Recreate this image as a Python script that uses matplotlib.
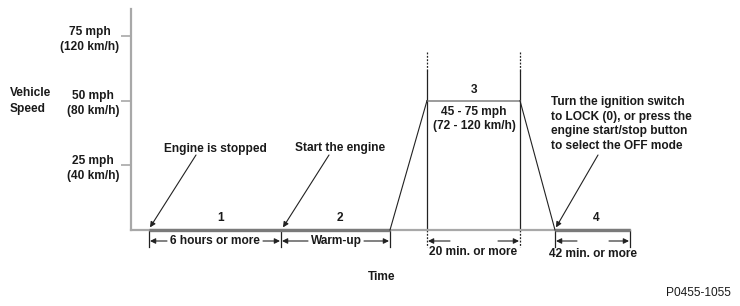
import matplotlib.pyplot as plt

plt.rcParams['font.family'] = ['Liberation Sans', 'DejaVu Sans']
plt.rcParams['font.weight'] = 'bold'
plt.rcParams['font.size'] = 8.6

# schematic time positions (drawing units) and vehicle speed (mph)
time_pts = [149, 390, 427, 520, 555, 630]
speed_pts = [0, 0, 50, 50, 0, 0]

speed_ticks = [25, 50, 75]
tick_labels = ['25 mph\n(40 km/h)', '50 mph\n(80 km/h)', '75 mph\n(120 km/h)']

# phase boundaries along the time axis
phase_edges = [149, 281, 390, 427, 520, 555, 630]
phase_names = ['1', '2', '3', '4']
phase_centers = [221, 340, 474, 596]
phase_speeds = [0, 0, 50, 0]

TXT = '#1a1a1a'
PX = 194 / 75.0          # pixels per mph
def py(p):               # pixel row -> mph units
    return (230 - p) / PX

fig = plt.figure(figsize=(7.4, 3.06), dpi=100)
ax = fig.add_axes([0, 0, 1, 1])
ax.set_xlim(0, 740)
ax.set_ylim(py(306), py(0))

# axes
ax.spines['top'].set_visible(False)
ax.spines['right'].set_visible(False)
ax.spines['left'].set_position(('data', 131))
ax.spines['left'].set_bounds(0, py(9))
ax.spines['bottom'].set_position(('data', 0))
ax.spines['bottom'].set_bounds(131, 630)
for s in ['left', 'bottom']:
    ax.spines[s].set_color('#a8a8a8')
    ax.spines[s].set_linewidth(1.6)
ax.set_xticks([])
ax.set_yticks(speed_ticks)
ax.set_yticklabels(tick_labels, multialignment='center', color=TXT,
                   linespacing=1.35)
ax.tick_params(axis='y', direction='out', length=7.5, width=1.2,
               color='#a8a8a8', pad=1)

# speed profile
ax.plot(time_pts[:2], speed_pts[:2], color='#7a7a7a', lw=2.4,
        solid_capstyle='butt', zorder=3)
ax.plot(time_pts[4:], speed_pts[4:], color='#7a7a7a', lw=2.4,
        solid_capstyle='butt', zorder=3)
ax.plot(time_pts[2:4], speed_pts[2:4], color='#8a8a8a', lw=1.2, zorder=3)
ax.plot(time_pts[1:3], speed_pts[1:3], color='#222222', lw=0.8, zorder=3)
ax.plot(time_pts[3:5], speed_pts[3:5], color='#222222', lw=0.8, zorder=3)

# vertical markers for phase 3
for x in [427, 520]:
    ax.plot([x, x], [py(52), py(71)], color='#222222', lw=0.9, ls=(0, (1.5, 1.2)))
    ax.plot([x, x], [py(71), 0], color='#222222', lw=0.9)
    ax.plot([x, x], [0, py(247)], color='#222222', lw=0.9, ls=(0, (1.5, 1.2)))

# bracket ticks
for x in [149, 281, 390, 555, 630]:
    ax.plot([x, x], [0, py(247)], color='#222222', lw=0.9)

# phase numbers
for name, cx, sp in zip(phase_names, phase_centers, phase_speeds):
    ax.text(cx, sp + py(218) if sp == 0 else py(90), name, ha='center',
            va='center', color=TXT)

arrow_kw = dict(arrowstyle='-|>', color='#222222', lw=0.8,
                mutation_scale=8, shrinkA=0, shrinkB=0)

def bracket(x0, x1, tx0, tx1, yy):
    ax.annotate('', xy=(x0 + 1, py(yy)), xytext=(tx0, py(yy)), arrowprops=arrow_kw)
    ax.annotate('', xy=(x1 - 1, py(yy)), xytext=(tx1, py(yy)), arrowprops=arrow_kw)

# duration brackets
ax.text(215, py(241), '6 hours or more', ha='center', va='center', color=TXT)
bracket(149, 281, 167, 263, 241)
ax.text(336, py(241), 'Warm-up', ha='center', va='center', color=TXT)
bracket(281, 390, 308, 364, 241)
ax.text(473, py(252), '20 min. or more', ha='center', va='center', color=TXT)
bracket(427, 520, 450, 498, 241)
ax.text(593, py(254), '42 min. or more', ha='center', va='center', color=TXT)
bracket(555, 630, 577, 609, 241)

# phase 3 speed range
ax.text(474, py(119), '45 - 75 mph\n(72 - 120 km/h)', ha='center', va='center',
        multialignment='center', color=TXT, linespacing=1.2)

# callouts
ax.text(215, py(149), 'Engine is stopped', ha='center', va='center', color=TXT)
ax.annotate('', xy=(150, 1), xytext=(196, py(155)), arrowprops=arrow_kw)
ax.text(340, py(148), 'Start the engine', ha='center', va='center', color=TXT)
ax.annotate('', xy=(283, 1), xytext=(329, py(155)), arrowprops=arrow_kw)
ax.text(551, py(124), 'Turn the ignition switch\nto LOCK (0), or press the\n'
        'engine start/stop button\nto select the OFF mode',
        ha='left', va='center', color=TXT, linespacing=1.27)
ax.annotate('', xy=(556, 1), xytext=(598, py(155)), arrowprops=arrow_kw)

# axis titles
ax.text(10, py(101), 'Vehicle\nSpeed', ha='left', va='center', color=TXT,
        linespacing=1.4)
ax.text(382, py(277), 'Time', ha='center', va='center', color=TXT)
ax.text(731, py(293), 'P0455-1055', ha='right', va='center', color=TXT,
        fontweight='normal')

fig.savefig('out.png', dpi=100, facecolor='white')
